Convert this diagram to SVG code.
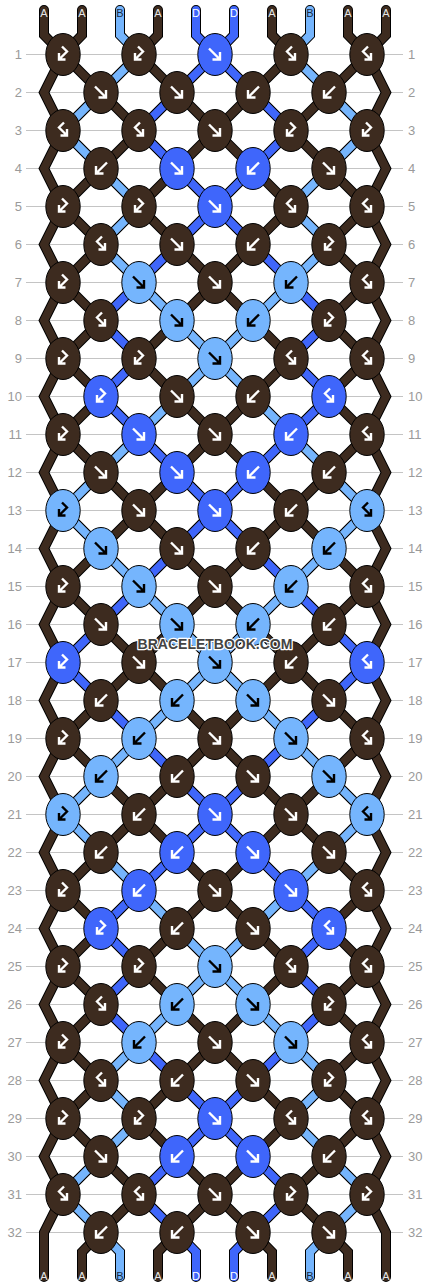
<svg xmlns="http://www.w3.org/2000/svg" width="430" height="1288" viewBox="0 0 430 1288">
<style>
.ol{fill:none;stroke:#000;stroke-width:10;stroke-linecap:round}
.sA{fill:none;stroke:#3d2b1f;stroke-width:8;stroke-linecap:round}
.sB{fill:none;stroke:#75b5fd;stroke-width:8;stroke-linecap:round}
.sD{fill:none;stroke:#3f66fb;stroke-width:8;stroke-linecap:round}
.grid{fill:none;stroke:#c4c4c4;stroke-width:1}
.num{font-family:"Liberation Sans",Arial,sans-serif;font-size:13px;fill:#9a9a9a}
.nl{text-anchor:end}
.lab{font-family:"Liberation Sans",Arial,sans-serif;font-size:11px;text-anchor:middle}
.lA{fill:#e6e6e6}.lB{fill:#1a2a40}.lD{fill:#fff}
.k ellipse{stroke:#000;stroke-width:1}
.A ellipse{fill:#3d2b1f}.B ellipse{fill:#75b5fd}.D ellipse{fill:#3f66fb}
.k use{fill:none;stroke:#fff;stroke-width:2.4}
.B use{stroke:#000}
.wm{font-family:"Liberation Sans",Arial,sans-serif;font-size:14px;font-weight:bold;text-anchor:middle;fill:#444;stroke:#fff;stroke-width:2.5;paint-order:stroke;stroke-linejoin:round}
</style>
<defs>
<path id="lat" d="M291 54.5L367 130.5M215 54.5L367 206.5M139 54.5L367 282.5M63 54.5L367 358.5M63 130.5L367 434.5M63 206.5L367 510.5M63 282.5L367 586.5M63 358.5L367 662.5M63 434.5L367 738.5M63 510.5L367 814.5M63 586.5L367 890.5M63 662.5L367 966.5M63 738.5L367 1042.5M63 814.5L367 1118.5M63 890.5L367 1194.5M63 966.5L329 1232.5M63 1042.5L253 1232.5M63 1118.5L177 1232.5M63 1194.5L101 1232.5M139 54.5L63 130.5M215 54.5L63 206.5M291 54.5L63 282.5M367 54.5L63 358.5M367 130.5L63 434.5M367 206.5L63 510.5M367 282.5L63 586.5M367 358.5L63 662.5M367 434.5L63 738.5M367 510.5L63 814.5M367 586.5L63 890.5M367 662.5L63 966.5M367 738.5L63 1042.5M367 814.5L63 1118.5M367 890.5L63 1194.5M367 966.5L101 1232.5M367 1042.5L177 1232.5M367 1118.5L253 1232.5M367 1194.5L329 1232.5"/>
<path id="edgeL" d="M44 10V35L63 54.5L44 92.5L63 130.5L44 168.5L63 206.5L44 244.5L63 282.5L44 320.5L63 358.5L44 396.5L63 434.5L44 472.5L63 510.5L44 548.5L63 586.5L44 624.5L63 662.5L44 700.5L63 738.5L44 776.5L63 814.5L44 852.5L63 890.5L44 928.5L63 966.5L44 1004.5L63 1042.5L44 1080.5L63 1118.5L44 1156.5L63 1194.5L44 1232.5V1277"/>
<path id="edgeR" d="M386 10V35L367 54.5L386 92.5L367 130.5L386 168.5L367 206.5L386 244.5L367 282.5L386 320.5L367 358.5L386 396.5L367 434.5L386 472.5L367 510.5L386 548.5L367 586.5L386 624.5L367 662.5L386 700.5L367 738.5L386 776.5L367 814.5L386 852.5L367 890.5L386 928.5L367 966.5L386 1004.5L367 1042.5L386 1080.5L367 1118.5L386 1156.5L367 1194.5L386 1232.5V1277"/>
<path id="endsA" d="M82 10V35L63 54.5M158 10V35L139 54.5M272 10V35L291 54.5M348 10V35L367 54.5M101 1232.5L82 1252V1277M177 1232.5L158 1252V1277M253 1232.5L272 1252V1277M329 1232.5L348 1252V1277"/>
<path id="thrB" d="M120 10V35L139 54.5L101 92.5L63 130.5L101 168.5L139 206.5L101 244.5L139 282.5L177 320.5L215 358.5L177 396.5L139 434.5L101 472.5L63 510.5L101 548.5L139 586.5L177 624.5L215 662.5L177 700.5L139 738.5L101 776.5L63 814.5L101 852.5L139 890.5L177 928.5L215 966.5L177 1004.5L139 1042.5L101 1080.5L139 1118.5L101 1156.5L63 1194.5L101 1232.5L120 1252V1277M310 10V35L291 54.5L329 92.5L367 130.5L329 168.5L291 206.5L329 244.5L291 282.5L253 320.5L215 358.5L253 396.5L291 434.5L329 472.5L367 510.5L329 548.5L291 586.5L253 624.5L215 662.5L253 700.5L291 738.5L329 776.5L367 814.5L329 852.5L291 890.5L253 928.5L215 966.5L253 1004.5L291 1042.5L329 1080.5L291 1118.5L329 1156.5L367 1194.5L329 1232.5L310 1252V1277"/>
<path id="thrD" d="M196 10V35L215 54.5L177 92.5L139 130.5L177 168.5L215 206.5L177 244.5L139 282.5L101 320.5L139 358.5L101 396.5L139 434.5L177 472.5L215 510.5L177 548.5L139 586.5L101 624.5L63 662.5L101 700.5L139 738.5L177 776.5L215 814.5L177 852.5L139 890.5L101 928.5L139 966.5L101 1004.5L139 1042.5L177 1080.5L215 1118.5L177 1156.5L139 1194.5L177 1232.5L196 1252V1277M234 10V35L215 54.5L253 92.5L291 130.5L253 168.5L215 206.5L253 244.5L291 282.5L329 320.5L291 358.5L329 396.5L291 434.5L253 472.5L215 510.5L253 548.5L291 586.5L329 624.5L367 662.5L329 700.5L291 738.5L253 776.5L215 814.5L253 852.5L291 890.5L329 928.5L291 966.5L329 1004.5L291 1042.5L253 1080.5L215 1118.5L253 1156.5L291 1194.5L253 1232.5L234 1252V1277"/>
<path id="F" d="M-6-6L5 5M5-2.5V5H-2.5"/>
<path id="Bk" d="M6-6L-5 5M-5-2.5V5H2.5"/>
<path id="g1" d="M-1-8L4-3L-4 5M-4-1.5V5H2.5"/>
<path id="g2" d="M1-8L-4-3L4 5M4-1.5V5H-2.5"/>
</defs>
<g id="rows">
<path class="grid" d="M26 54.5H403M26 92.5H403M26 130.5H403M26 168.5H403M26 206.5H403M26 244.5H403M26 282.5H403M26 320.5H403M26 358.5H403M26 396.5H403M26 434.5H403M26 472.5H403M26 510.5H403M26 548.5H403M26 586.5H403M26 624.5H403M26 662.5H403M26 700.5H403M26 738.5H403M26 776.5H403M26 814.5H403M26 852.5H403M26 890.5H403M26 928.5H403M26 966.5H403M26 1004.5H403M26 1042.5H403M26 1080.5H403M26 1118.5H403M26 1156.5H403M26 1194.5H403M26 1232.5H403"/>
<g class="num nl">
<text x="22" y="59.2">1</text><text x="22" y="97.2">2</text><text x="22" y="135.2">3</text><text x="22" y="173.2">4</text><text x="22" y="211.2">5</text><text x="22" y="249.2">6</text><text x="22" y="287.2">7</text><text x="22" y="325.2">8</text><text x="22" y="363.2">9</text><text x="22" y="401.2">10</text><text x="22" y="439.2">11</text><text x="22" y="477.2">12</text><text x="22" y="515.2">13</text><text x="22" y="553.2">14</text><text x="22" y="591.2">15</text><text x="22" y="629.2">16</text><text x="22" y="667.2">17</text><text x="22" y="705.2">18</text><text x="22" y="743.2">19</text><text x="22" y="781.2">20</text><text x="22" y="819.2">21</text><text x="22" y="857.2">22</text><text x="22" y="895.2">23</text><text x="22" y="933.2">24</text><text x="22" y="971.2">25</text><text x="22" y="1009.2">26</text><text x="22" y="1047.2">27</text><text x="22" y="1085.2">28</text><text x="22" y="1123.2">29</text><text x="22" y="1161.2">30</text><text x="22" y="1199.2">31</text><text x="22" y="1237.2">32</text>
</g>
<g class="num">
<text x="408" y="59.2">1</text><text x="408" y="97.2">2</text><text x="408" y="135.2">3</text><text x="408" y="173.2">4</text><text x="408" y="211.2">5</text><text x="408" y="249.2">6</text><text x="408" y="287.2">7</text><text x="408" y="325.2">8</text><text x="408" y="363.2">9</text><text x="408" y="401.2">10</text><text x="408" y="439.2">11</text><text x="408" y="477.2">12</text><text x="408" y="515.2">13</text><text x="408" y="553.2">14</text><text x="408" y="591.2">15</text><text x="408" y="629.2">16</text><text x="408" y="667.2">17</text><text x="408" y="705.2">18</text><text x="408" y="743.2">19</text><text x="408" y="781.2">20</text><text x="408" y="819.2">21</text><text x="408" y="857.2">22</text><text x="408" y="895.2">23</text><text x="408" y="933.2">24</text><text x="408" y="971.2">25</text><text x="408" y="1009.2">26</text><text x="408" y="1047.2">27</text><text x="408" y="1085.2">28</text><text x="408" y="1123.2">29</text><text x="408" y="1161.2">30</text><text x="408" y="1199.2">31</text><text x="408" y="1237.2">32</text>
</g>
</g>
<g id="connectors">
<use href="#lat" class="ol"/><use href="#edgeL" class="ol"/><use href="#edgeR" class="ol"/><use href="#endsA" class="ol"/><use href="#thrB" class="ol"/><use href="#thrD" class="ol"/>
<use href="#lat" class="sA"/><use href="#edgeL" class="sA"/><use href="#edgeR" class="sA"/><use href="#endsA" class="sA"/>
<use href="#thrB" class="sB"/><use href="#thrD" class="sD"/>
</g>
<g id="labels" class="lab">
<text class="lA" x="44" y="16.7">A</text><text class="lA" x="82" y="16.7">A</text><text class="lB" x="120" y="16.7">B</text><text class="lA" x="158" y="16.7">A</text><text class="lD" x="196" y="16.7">D</text><text class="lD" x="234" y="16.7">D</text><text class="lA" x="272" y="16.7">A</text><text class="lB" x="310" y="16.7">B</text><text class="lA" x="348" y="16.7">A</text><text class="lA" x="386" y="16.7">A</text>
<text class="lA" x="44" y="1279.5">A</text><text class="lA" x="82" y="1279.5">A</text><text class="lB" x="120" y="1279.5">B</text><text class="lA" x="158" y="1279.5">A</text><text class="lD" x="196" y="1279.5">D</text><text class="lD" x="234" y="1279.5">D</text><text class="lA" x="272" y="1279.5">A</text><text class="lB" x="310" y="1279.5">B</text><text class="lA" x="348" y="1279.5">A</text><text class="lA" x="386" y="1279.5">A</text>
</g>
<g id="knots">
<g id="r1k1" class="k A"><ellipse cx="63" cy="54.5" rx="17.2" ry="21"/><use href="#g1" x="63" y="54.5"/></g>
<g id="r1k2" class="k A"><ellipse cx="139" cy="54.5" rx="17.2" ry="21"/><use href="#g1" x="139" y="54.5"/></g>
<g id="r1k3" class="k D"><ellipse cx="215" cy="54.5" rx="17.2" ry="21"/><use href="#F" x="215" y="54.5"/></g>
<g id="r1k4" class="k A"><ellipse cx="291" cy="54.5" rx="17.2" ry="21"/><use href="#g2" x="291" y="54.5"/></g>
<g id="r1k5" class="k A"><ellipse cx="367" cy="54.5" rx="17.2" ry="21"/><use href="#g2" x="367" y="54.5"/></g>
<g id="r2k1" class="k A"><ellipse cx="101" cy="92.5" rx="17.2" ry="21"/><use href="#F" x="101" y="92.5"/></g>
<g id="r2k2" class="k A"><ellipse cx="177" cy="92.5" rx="17.2" ry="21"/><use href="#F" x="177" y="92.5"/></g>
<g id="r2k3" class="k A"><ellipse cx="253" cy="92.5" rx="17.2" ry="21"/><use href="#Bk" x="253" y="92.5"/></g>
<g id="r2k4" class="k A"><ellipse cx="329" cy="92.5" rx="17.2" ry="21"/><use href="#Bk" x="329" y="92.5"/></g>
<g id="r3k1" class="k A"><ellipse cx="63" cy="130.5" rx="17.2" ry="21"/><use href="#g2" x="63" y="130.5"/></g>
<g id="r3k2" class="k A"><ellipse cx="139" cy="130.5" rx="17.2" ry="21"/><use href="#g2" x="139" y="130.5"/></g>
<g id="r3k3" class="k A"><ellipse cx="215" cy="130.5" rx="17.2" ry="21"/><use href="#F" x="215" y="130.5"/></g>
<g id="r3k4" class="k A"><ellipse cx="291" cy="130.5" rx="17.2" ry="21"/><use href="#g1" x="291" y="130.5"/></g>
<g id="r3k5" class="k A"><ellipse cx="367" cy="130.5" rx="17.2" ry="21"/><use href="#g1" x="367" y="130.5"/></g>
<g id="r4k1" class="k A"><ellipse cx="101" cy="168.5" rx="17.2" ry="21"/><use href="#Bk" x="101" y="168.5"/></g>
<g id="r4k2" class="k D"><ellipse cx="177" cy="168.5" rx="17.2" ry="21"/><use href="#F" x="177" y="168.5"/></g>
<g id="r4k3" class="k D"><ellipse cx="253" cy="168.5" rx="17.2" ry="21"/><use href="#Bk" x="253" y="168.5"/></g>
<g id="r4k4" class="k A"><ellipse cx="329" cy="168.5" rx="17.2" ry="21"/><use href="#F" x="329" y="168.5"/></g>
<g id="r5k1" class="k A"><ellipse cx="63" cy="206.5" rx="17.2" ry="21"/><use href="#g1" x="63" y="206.5"/></g>
<g id="r5k2" class="k A"><ellipse cx="139" cy="206.5" rx="17.2" ry="21"/><use href="#g1" x="139" y="206.5"/></g>
<g id="r5k3" class="k D"><ellipse cx="215" cy="206.5" rx="17.2" ry="21"/><use href="#F" x="215" y="206.5"/></g>
<g id="r5k4" class="k A"><ellipse cx="291" cy="206.5" rx="17.2" ry="21"/><use href="#g2" x="291" y="206.5"/></g>
<g id="r5k5" class="k A"><ellipse cx="367" cy="206.5" rx="17.2" ry="21"/><use href="#g2" x="367" y="206.5"/></g>
<g id="r6k1" class="k A"><ellipse cx="101" cy="244.5" rx="17.2" ry="21"/><use href="#g2" x="101" y="244.5"/></g>
<g id="r6k2" class="k A"><ellipse cx="177" cy="244.5" rx="17.2" ry="21"/><use href="#F" x="177" y="244.5"/></g>
<g id="r6k3" class="k A"><ellipse cx="253" cy="244.5" rx="17.2" ry="21"/><use href="#Bk" x="253" y="244.5"/></g>
<g id="r6k4" class="k A"><ellipse cx="329" cy="244.5" rx="17.2" ry="21"/><use href="#g1" x="329" y="244.5"/></g>
<g id="r7k1" class="k A"><ellipse cx="63" cy="282.5" rx="17.2" ry="21"/><use href="#g1" x="63" y="282.5"/></g>
<g id="r7k2" class="k B"><ellipse cx="139" cy="282.5" rx="17.2" ry="21"/><use href="#F" x="139" y="282.5"/></g>
<g id="r7k3" class="k A"><ellipse cx="215" cy="282.5" rx="17.2" ry="21"/><use href="#F" x="215" y="282.5"/></g>
<g id="r7k4" class="k B"><ellipse cx="291" cy="282.5" rx="17.2" ry="21"/><use href="#Bk" x="291" y="282.5"/></g>
<g id="r7k5" class="k A"><ellipse cx="367" cy="282.5" rx="17.2" ry="21"/><use href="#g2" x="367" y="282.5"/></g>
<g id="r8k1" class="k A"><ellipse cx="101" cy="320.5" rx="17.2" ry="21"/><use href="#g2" x="101" y="320.5"/></g>
<g id="r8k2" class="k B"><ellipse cx="177" cy="320.5" rx="17.2" ry="21"/><use href="#F" x="177" y="320.5"/></g>
<g id="r8k3" class="k B"><ellipse cx="253" cy="320.5" rx="17.2" ry="21"/><use href="#Bk" x="253" y="320.5"/></g>
<g id="r8k4" class="k A"><ellipse cx="329" cy="320.5" rx="17.2" ry="21"/><use href="#g1" x="329" y="320.5"/></g>
<g id="r9k1" class="k A"><ellipse cx="63" cy="358.5" rx="17.2" ry="21"/><use href="#g1" x="63" y="358.5"/></g>
<g id="r9k2" class="k A"><ellipse cx="139" cy="358.5" rx="17.2" ry="21"/><use href="#g1" x="139" y="358.5"/></g>
<g id="r9k3" class="k B"><ellipse cx="215" cy="358.5" rx="17.2" ry="21"/><use href="#F" x="215" y="358.5"/></g>
<g id="r9k4" class="k A"><ellipse cx="291" cy="358.5" rx="17.2" ry="21"/><use href="#g2" x="291" y="358.5"/></g>
<g id="r9k5" class="k A"><ellipse cx="367" cy="358.5" rx="17.2" ry="21"/><use href="#g2" x="367" y="358.5"/></g>
<g id="r10k1" class="k D"><ellipse cx="101" cy="396.5" rx="17.2" ry="21"/><use href="#g1" x="101" y="396.5"/></g>
<g id="r10k2" class="k A"><ellipse cx="177" cy="396.5" rx="17.2" ry="21"/><use href="#F" x="177" y="396.5"/></g>
<g id="r10k3" class="k A"><ellipse cx="253" cy="396.5" rx="17.2" ry="21"/><use href="#Bk" x="253" y="396.5"/></g>
<g id="r10k4" class="k D"><ellipse cx="329" cy="396.5" rx="17.2" ry="21"/><use href="#g2" x="329" y="396.5"/></g>
<g id="r11k1" class="k A"><ellipse cx="63" cy="434.5" rx="17.2" ry="21"/><use href="#g1" x="63" y="434.5"/></g>
<g id="r11k2" class="k D"><ellipse cx="139" cy="434.5" rx="17.2" ry="21"/><use href="#F" x="139" y="434.5"/></g>
<g id="r11k3" class="k A"><ellipse cx="215" cy="434.5" rx="17.2" ry="21"/><use href="#F" x="215" y="434.5"/></g>
<g id="r11k4" class="k D"><ellipse cx="291" cy="434.5" rx="17.2" ry="21"/><use href="#Bk" x="291" y="434.5"/></g>
<g id="r11k5" class="k A"><ellipse cx="367" cy="434.5" rx="17.2" ry="21"/><use href="#g2" x="367" y="434.5"/></g>
<g id="r12k1" class="k A"><ellipse cx="101" cy="472.5" rx="17.2" ry="21"/><use href="#F" x="101" y="472.5"/></g>
<g id="r12k2" class="k D"><ellipse cx="177" cy="472.5" rx="17.2" ry="21"/><use href="#F" x="177" y="472.5"/></g>
<g id="r12k3" class="k D"><ellipse cx="253" cy="472.5" rx="17.2" ry="21"/><use href="#Bk" x="253" y="472.5"/></g>
<g id="r12k4" class="k A"><ellipse cx="329" cy="472.5" rx="17.2" ry="21"/><use href="#Bk" x="329" y="472.5"/></g>
<g id="r13k1" class="k B"><ellipse cx="63" cy="510.5" rx="17.2" ry="21"/><use href="#g1" x="63" y="510.5"/></g>
<g id="r13k2" class="k A"><ellipse cx="139" cy="510.5" rx="17.2" ry="21"/><use href="#F" x="139" y="510.5"/></g>
<g id="r13k3" class="k D"><ellipse cx="215" cy="510.5" rx="17.2" ry="21"/><use href="#F" x="215" y="510.5"/></g>
<g id="r13k4" class="k A"><ellipse cx="291" cy="510.5" rx="17.2" ry="21"/><use href="#Bk" x="291" y="510.5"/></g>
<g id="r13k5" class="k B"><ellipse cx="367" cy="510.5" rx="17.2" ry="21"/><use href="#g2" x="367" y="510.5"/></g>
<g id="r14k1" class="k B"><ellipse cx="101" cy="548.5" rx="17.2" ry="21"/><use href="#F" x="101" y="548.5"/></g>
<g id="r14k2" class="k A"><ellipse cx="177" cy="548.5" rx="17.2" ry="21"/><use href="#F" x="177" y="548.5"/></g>
<g id="r14k3" class="k A"><ellipse cx="253" cy="548.5" rx="17.2" ry="21"/><use href="#Bk" x="253" y="548.5"/></g>
<g id="r14k4" class="k B"><ellipse cx="329" cy="548.5" rx="17.2" ry="21"/><use href="#Bk" x="329" y="548.5"/></g>
<g id="r15k1" class="k A"><ellipse cx="63" cy="586.5" rx="17.2" ry="21"/><use href="#g1" x="63" y="586.5"/></g>
<g id="r15k2" class="k B"><ellipse cx="139" cy="586.5" rx="17.2" ry="21"/><use href="#F" x="139" y="586.5"/></g>
<g id="r15k3" class="k A"><ellipse cx="215" cy="586.5" rx="17.2" ry="21"/><use href="#F" x="215" y="586.5"/></g>
<g id="r15k4" class="k B"><ellipse cx="291" cy="586.5" rx="17.2" ry="21"/><use href="#Bk" x="291" y="586.5"/></g>
<g id="r15k5" class="k A"><ellipse cx="367" cy="586.5" rx="17.2" ry="21"/><use href="#g2" x="367" y="586.5"/></g>
<g id="r16k1" class="k A"><ellipse cx="101" cy="624.5" rx="17.2" ry="21"/><use href="#F" x="101" y="624.5"/></g>
<g id="r16k2" class="k B"><ellipse cx="177" cy="624.5" rx="17.2" ry="21"/><use href="#F" x="177" y="624.5"/></g>
<g id="r16k3" class="k B"><ellipse cx="253" cy="624.5" rx="17.2" ry="21"/><use href="#Bk" x="253" y="624.5"/></g>
<g id="r16k4" class="k A"><ellipse cx="329" cy="624.5" rx="17.2" ry="21"/><use href="#Bk" x="329" y="624.5"/></g>
<g id="r17k1" class="k D"><ellipse cx="63" cy="662.5" rx="17.2" ry="21"/><use href="#g1" x="63" y="662.5"/></g>
<g id="r17k2" class="k A"><ellipse cx="139" cy="662.5" rx="17.2" ry="21"/><use href="#F" x="139" y="662.5"/></g>
<g id="r17k3" class="k B"><ellipse cx="215" cy="662.5" rx="17.2" ry="21"/><use href="#F" x="215" y="662.5"/></g>
<g id="r17k4" class="k A"><ellipse cx="291" cy="662.5" rx="17.2" ry="21"/><use href="#Bk" x="291" y="662.5"/></g>
<g id="r17k5" class="k D"><ellipse cx="367" cy="662.5" rx="17.2" ry="21"/><use href="#g2" x="367" y="662.5"/></g>
<g id="r18k1" class="k A"><ellipse cx="101" cy="700.5" rx="17.2" ry="21"/><use href="#Bk" x="101" y="700.5"/></g>
<g id="r18k2" class="k B"><ellipse cx="177" cy="700.5" rx="17.2" ry="21"/><use href="#Bk" x="177" y="700.5"/></g>
<g id="r18k3" class="k B"><ellipse cx="253" cy="700.5" rx="17.2" ry="21"/><use href="#F" x="253" y="700.5"/></g>
<g id="r18k4" class="k A"><ellipse cx="329" cy="700.5" rx="17.2" ry="21"/><use href="#F" x="329" y="700.5"/></g>
<g id="r19k1" class="k A"><ellipse cx="63" cy="738.5" rx="17.2" ry="21"/><use href="#g1" x="63" y="738.5"/></g>
<g id="r19k2" class="k B"><ellipse cx="139" cy="738.5" rx="17.2" ry="21"/><use href="#Bk" x="139" y="738.5"/></g>
<g id="r19k3" class="k A"><ellipse cx="215" cy="738.5" rx="17.2" ry="21"/><use href="#F" x="215" y="738.5"/></g>
<g id="r19k4" class="k B"><ellipse cx="291" cy="738.5" rx="17.2" ry="21"/><use href="#F" x="291" y="738.5"/></g>
<g id="r19k5" class="k A"><ellipse cx="367" cy="738.5" rx="17.2" ry="21"/><use href="#g2" x="367" y="738.5"/></g>
<g id="r20k1" class="k B"><ellipse cx="101" cy="776.5" rx="17.2" ry="21"/><use href="#Bk" x="101" y="776.5"/></g>
<g id="r20k2" class="k A"><ellipse cx="177" cy="776.5" rx="17.2" ry="21"/><use href="#Bk" x="177" y="776.5"/></g>
<g id="r20k3" class="k A"><ellipse cx="253" cy="776.5" rx="17.2" ry="21"/><use href="#F" x="253" y="776.5"/></g>
<g id="r20k4" class="k B"><ellipse cx="329" cy="776.5" rx="17.2" ry="21"/><use href="#F" x="329" y="776.5"/></g>
<g id="r21k1" class="k B"><ellipse cx="63" cy="814.5" rx="17.2" ry="21"/><use href="#g1" x="63" y="814.5"/></g>
<g id="r21k2" class="k A"><ellipse cx="139" cy="814.5" rx="17.2" ry="21"/><use href="#Bk" x="139" y="814.5"/></g>
<g id="r21k3" class="k D"><ellipse cx="215" cy="814.5" rx="17.2" ry="21"/><use href="#F" x="215" y="814.5"/></g>
<g id="r21k4" class="k A"><ellipse cx="291" cy="814.5" rx="17.2" ry="21"/><use href="#F" x="291" y="814.5"/></g>
<g id="r21k5" class="k B"><ellipse cx="367" cy="814.5" rx="17.2" ry="21"/><use href="#g2" x="367" y="814.5"/></g>
<g id="r22k1" class="k A"><ellipse cx="101" cy="852.5" rx="17.2" ry="21"/><use href="#Bk" x="101" y="852.5"/></g>
<g id="r22k2" class="k D"><ellipse cx="177" cy="852.5" rx="17.2" ry="21"/><use href="#Bk" x="177" y="852.5"/></g>
<g id="r22k3" class="k D"><ellipse cx="253" cy="852.5" rx="17.2" ry="21"/><use href="#F" x="253" y="852.5"/></g>
<g id="r22k4" class="k A"><ellipse cx="329" cy="852.5" rx="17.2" ry="21"/><use href="#F" x="329" y="852.5"/></g>
<g id="r23k1" class="k A"><ellipse cx="63" cy="890.5" rx="17.2" ry="21"/><use href="#g1" x="63" y="890.5"/></g>
<g id="r23k2" class="k D"><ellipse cx="139" cy="890.5" rx="17.2" ry="21"/><use href="#Bk" x="139" y="890.5"/></g>
<g id="r23k3" class="k A"><ellipse cx="215" cy="890.5" rx="17.2" ry="21"/><use href="#F" x="215" y="890.5"/></g>
<g id="r23k4" class="k D"><ellipse cx="291" cy="890.5" rx="17.2" ry="21"/><use href="#F" x="291" y="890.5"/></g>
<g id="r23k5" class="k A"><ellipse cx="367" cy="890.5" rx="17.2" ry="21"/><use href="#g2" x="367" y="890.5"/></g>
<g id="r24k1" class="k D"><ellipse cx="101" cy="928.5" rx="17.2" ry="21"/><use href="#g1" x="101" y="928.5"/></g>
<g id="r24k2" class="k A"><ellipse cx="177" cy="928.5" rx="17.2" ry="21"/><use href="#Bk" x="177" y="928.5"/></g>
<g id="r24k3" class="k A"><ellipse cx="253" cy="928.5" rx="17.2" ry="21"/><use href="#F" x="253" y="928.5"/></g>
<g id="r24k4" class="k D"><ellipse cx="329" cy="928.5" rx="17.2" ry="21"/><use href="#g2" x="329" y="928.5"/></g>
<g id="r25k1" class="k A"><ellipse cx="63" cy="966.5" rx="17.2" ry="21"/><use href="#g1" x="63" y="966.5"/></g>
<g id="r25k2" class="k A"><ellipse cx="139" cy="966.5" rx="17.2" ry="21"/><use href="#g1" x="139" y="966.5"/></g>
<g id="r25k3" class="k B"><ellipse cx="215" cy="966.5" rx="17.2" ry="21"/><use href="#F" x="215" y="966.5"/></g>
<g id="r25k4" class="k A"><ellipse cx="291" cy="966.5" rx="17.2" ry="21"/><use href="#g2" x="291" y="966.5"/></g>
<g id="r25k5" class="k A"><ellipse cx="367" cy="966.5" rx="17.2" ry="21"/><use href="#g2" x="367" y="966.5"/></g>
<g id="r26k1" class="k A"><ellipse cx="101" cy="1004.5" rx="17.2" ry="21"/><use href="#g2" x="101" y="1004.5"/></g>
<g id="r26k2" class="k B"><ellipse cx="177" cy="1004.5" rx="17.2" ry="21"/><use href="#Bk" x="177" y="1004.5"/></g>
<g id="r26k3" class="k B"><ellipse cx="253" cy="1004.5" rx="17.2" ry="21"/><use href="#F" x="253" y="1004.5"/></g>
<g id="r26k4" class="k A"><ellipse cx="329" cy="1004.5" rx="17.2" ry="21"/><use href="#g1" x="329" y="1004.5"/></g>
<g id="r27k1" class="k A"><ellipse cx="63" cy="1042.5" rx="17.2" ry="21"/><use href="#g1" x="63" y="1042.5"/></g>
<g id="r27k2" class="k B"><ellipse cx="139" cy="1042.5" rx="17.2" ry="21"/><use href="#Bk" x="139" y="1042.5"/></g>
<g id="r27k3" class="k A"><ellipse cx="215" cy="1042.5" rx="17.2" ry="21"/><use href="#F" x="215" y="1042.5"/></g>
<g id="r27k4" class="k B"><ellipse cx="291" cy="1042.5" rx="17.2" ry="21"/><use href="#F" x="291" y="1042.5"/></g>
<g id="r27k5" class="k A"><ellipse cx="367" cy="1042.5" rx="17.2" ry="21"/><use href="#g2" x="367" y="1042.5"/></g>
<g id="r28k1" class="k A"><ellipse cx="101" cy="1080.5" rx="17.2" ry="21"/><use href="#g2" x="101" y="1080.5"/></g>
<g id="r28k2" class="k A"><ellipse cx="177" cy="1080.5" rx="17.2" ry="21"/><use href="#Bk" x="177" y="1080.5"/></g>
<g id="r28k3" class="k A"><ellipse cx="253" cy="1080.5" rx="17.2" ry="21"/><use href="#F" x="253" y="1080.5"/></g>
<g id="r28k4" class="k A"><ellipse cx="329" cy="1080.5" rx="17.2" ry="21"/><use href="#g1" x="329" y="1080.5"/></g>
<g id="r29k1" class="k A"><ellipse cx="63" cy="1118.5" rx="17.2" ry="21"/><use href="#g1" x="63" y="1118.5"/></g>
<g id="r29k2" class="k A"><ellipse cx="139" cy="1118.5" rx="17.2" ry="21"/><use href="#g1" x="139" y="1118.5"/></g>
<g id="r29k3" class="k D"><ellipse cx="215" cy="1118.5" rx="17.2" ry="21"/><use href="#F" x="215" y="1118.5"/></g>
<g id="r29k4" class="k A"><ellipse cx="291" cy="1118.5" rx="17.2" ry="21"/><use href="#g2" x="291" y="1118.5"/></g>
<g id="r29k5" class="k A"><ellipse cx="367" cy="1118.5" rx="17.2" ry="21"/><use href="#g2" x="367" y="1118.5"/></g>
<g id="r30k1" class="k A"><ellipse cx="101" cy="1156.5" rx="17.2" ry="21"/><use href="#F" x="101" y="1156.5"/></g>
<g id="r30k2" class="k D"><ellipse cx="177" cy="1156.5" rx="17.2" ry="21"/><use href="#Bk" x="177" y="1156.5"/></g>
<g id="r30k3" class="k D"><ellipse cx="253" cy="1156.5" rx="17.2" ry="21"/><use href="#F" x="253" y="1156.5"/></g>
<g id="r30k4" class="k A"><ellipse cx="329" cy="1156.5" rx="17.2" ry="21"/><use href="#Bk" x="329" y="1156.5"/></g>
<g id="r31k1" class="k A"><ellipse cx="63" cy="1194.5" rx="17.2" ry="21"/><use href="#g2" x="63" y="1194.5"/></g>
<g id="r31k2" class="k A"><ellipse cx="139" cy="1194.5" rx="17.2" ry="21"/><use href="#g2" x="139" y="1194.5"/></g>
<g id="r31k3" class="k A"><ellipse cx="215" cy="1194.5" rx="17.2" ry="21"/><use href="#F" x="215" y="1194.5"/></g>
<g id="r31k4" class="k A"><ellipse cx="291" cy="1194.5" rx="17.2" ry="21"/><use href="#g1" x="291" y="1194.5"/></g>
<g id="r31k5" class="k A"><ellipse cx="367" cy="1194.5" rx="17.2" ry="21"/><use href="#g1" x="367" y="1194.5"/></g>
<g id="r32k1" class="k A"><ellipse cx="101" cy="1232.5" rx="17.2" ry="21"/><use href="#Bk" x="101" y="1232.5"/></g>
<g id="r32k2" class="k A"><ellipse cx="177" cy="1232.5" rx="17.2" ry="21"/><use href="#Bk" x="177" y="1232.5"/></g>
<g id="r32k3" class="k A"><ellipse cx="253" cy="1232.5" rx="17.2" ry="21"/><use href="#F" x="253" y="1232.5"/></g>
<g id="r32k4" class="k A"><ellipse cx="329" cy="1232.5" rx="17.2" ry="21"/><use href="#F" x="329" y="1232.5"/></g>
</g>
<text id="watermark" class="wm" x="215" y="648.5">BRACELETBOOK.COM</text>
</svg>
